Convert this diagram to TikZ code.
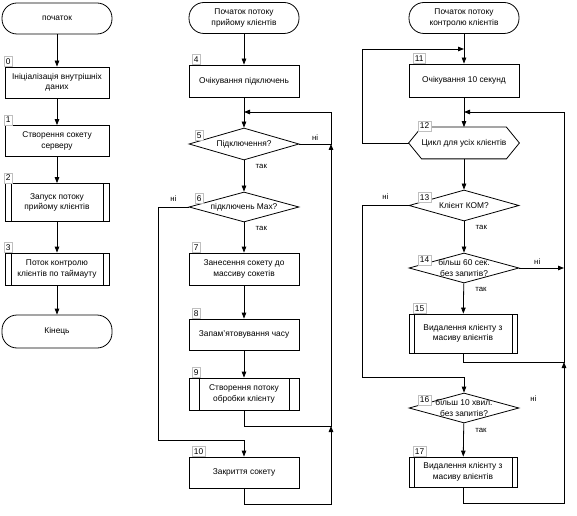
\documentclass[tikz,border=0pt]{standalone}
\usepackage{fontspec}
\setmainfont{Liberation Sans}
\usetikzlibrary{arrows.meta, shapes.geometric}
\tikzset{>={Triangle[length=6bp,width=4.5bp]}}
\tikzset{
	every node/.style={font=\fontsize{8.4}{10.5}\selectfont, align=center},
	term/.style={draw, rectangle, rounded corners=15bp, minimum width=110bp, minimum height=31bp, inner sep=0pt},
	proc/.style={draw, rectangle, minimum width=110bp, minimum height=31bp, inner sep=0pt},
	pred/.style={proc, path picture={
		\draw ([xshift=#1]path picture bounding box.north west) -- ([xshift=#1]path picture bounding box.south west);
		\draw ([xshift=-#1]path picture bounding box.north east) -- ([xshift=-#1]path picture bounding box.south east);}},
	dec/.style={draw, diamond, inner sep=-30bp, minimum width=110bp, minimum height=31bp},
	hexa/.style={rectangle, minimum width=110bp, minimum height=31bp, inner sep=0pt},
	num/.style={fill=white, draw=black!25, line width=0.5bp, inner xsep=2bp, inner ysep=1bp, minimum height=10bp, anchor=south west},
	yn/.style={font=\fontsize{7.8}{9}\selectfont}
}
\begin{document}
\begin{tikzpicture}[x=1bp, y=-1bp, line width=0.8bp]
	\useasboundingbox (0,0) rectangle (577,516);
	\node[term] (s1) at (57,18.5) {початок};
	\node[proc, minimum width=104bp] (b0) at (57,82.5) {Ініціалізація внутрішніх\\даних};
	\node[proc, minimum width=104bp] (b1) at (57,141) {Створення сокету\\серверу};
	\node[pred=6bp, minimum width=104bp, minimum height=38bp] (b2) at (57,202.5) {Запуск потоку\\прийому клієнтів};
	\node[pred=6bp, minimum width=104bp, minimum height=32bp] (b3) at (57,269) {Поток контролю\\клієнтів по таймауту};
	\node[term, minimum height=33bp] (e1) at (57,331.5) {Кінець};
	\foreach \b/\t in {b0/0, b1/1, b2/2, b3/3}
	\node[num] at ([xshift=-1bp]\b.north west) {\t};
	\draw[->] (s1) -- (b0);
	\draw[->] (b0) -- (b1);
	\draw[->] (b1) -- (b2);
	\draw[->] (b2) -- (b3);
	\draw[->] (b3) -- (e1);

	\node[term] (s2) at (244,18) {Початок потоку\\прийому клієнтів};
	\node[proc, minimum height=32bp] (b4) at (244,81) {Очікування підключень};
	\node[dec, minimum height=32bp] (d5) at (244,144) {Підключення?};
	\node[dec, minimum height=30bp] (d6) at (244,207) {підключень Max?};
	\node[proc, minimum height=32bp] (b7) at (244,269) {Занесення сокету до\\массиву сокетів};
	\node[proc, minimum height=31bp] (b8) at (244,334.5) {Запам’ятовування часу};
	\node[pred=10bp, minimum height=32bp] (b9) at (244,394) {Створення потоку\\обробки клієнту};
	\node[proc, minimum height=31bp] (b10) at (244,472.5) {Закриття сокету};
	\foreach \b/\t in {b4/4, b7/7, b8/8, b9/9, b10/10}
	\node[num] at ([xshift=3bp]\b.north west) {\t};
	\node[num] at ([xshift=6bp, yshift=3bp]d5.west) {5};
	\node[num] at ([xshift=6bp, yshift=3bp]d6.west) {6};
	\coordinate (r5) at (331,112);
	\coordinate (l6) at (158,440);
	\coordinate (m9) at (331,426);
	\coordinate (m10) at (331,504);
	\draw[->] (s2) -- (b4);
	\draw[->] (b4) -- (d5);
	\draw[->] (d5.east) -| node[yn, pos=.25, above] {ні} (r5) -- (r5 -| b4);
	\draw[->] (d5) -- node[yn, pos=.2, right=8bp] {так} (d6);
	\draw[->] (d6.west) -| node[yn, pos=.25, above=2bp] {ні} (l6) -- (l6 -| b10) -- (b10);
	\draw[->] (d6) -- node[yn, pos=.2, right=8bp] {так} (b7);
	\draw[->] (b7) -- (b8);
	\draw[->] (b8) -- (b9);
	\draw[->] (b9) |- (m9) -- (m9 |- d5.east);
	\draw[->] (b10) |- (m10) -- (m9);

	\node[term] (s3) at (464,18) {Початок потоку\\контролю клієнтів};
	\node[proc, minimum height=33bp] (b11) at (464,80.5) {Очікування 10 секунд};
	\node[hexa] (h12) at (464,143) {Цикл для усіх клієнтів};
	\draw (h12.west) -- ([xshift=13bp]h12.north west) -- ([xshift=-13bp]h12.north east) -- (h12.east) -- ([xshift=-13bp]h12.south east) -- ([xshift=13bp]h12.south west) -- cycle;
	\node[dec] (d13) at (464,205.5) {Клієнт КОМ?};
	\node[dec, minimum height=30bp] (d14) at (464,268) {більш 60 сек.\\без запитів?};
	\node[pred=5bp, minimum width=108bp, minimum height=39bp] (b15) at (463,333.5) {Видалення клієнту з\\масиву влієнтів};
	\node[dec, minimum height=30bp] (d16) at (464,408) {більш 10 хвил.\\без запитів?};
	\node[pred=5bp, minimum width=108bp, minimum height=30bp] (b17) at (463,472) {Видалення клієнту з\\масиву влієнтів};
	\foreach \b/\t in {b11/11, b15/15, b17/17}
	\node[num] at ([xshift=4bp]\b.north west) {\t};
	\node[num] at ([xshift=9bp, yshift=-4bp]h12.north west) {12};
	\foreach \d/\t in {d13/13, d14/14, d16/16}
	\node[num] at ([xshift=9bp, yshift=3bp]\d.west) {\t};
	\node[yn] (n16) at ([xshift=14bp, yshift=9bp]d16.east) {ні};
	\coordinate (l12) at (362,49);
	\coordinate (r12) at (564,112);
	\coordinate (l13) at (362,377);
	\coordinate (m15) at (564,362);
	\coordinate (m17) at (564,503);
	\draw[->] (s3) -- (b11);
	\draw[->] (h12.west) -| (l12) -- (l12 -| b11);
	\draw[->] (b11) -- (h12);
	\draw[->] (h12) -- (d13);
	\draw[->] (d13.west) -| node[yn, pos=.25, above=2bp] {ні} (l13) -- (l13 -| d16) -- (d16);
	\draw[->] (d13) -- node[yn, pos=.2, right=8bp] {так} (d14);
	\draw[->] (d14.east) -- node[yn, pos=.4, above] {ні} (d14.east -| r12);
	\draw[->] (d14) -- node[yn, pos=.2, right=8bp] {так} (b15);
	\draw[->] (b15) |- (m15) -- (r12) -- (r12 -| b11);
	\draw[->] (d16) -- node[yn, pos=.2, right=8bp] {так} (b17);
	\draw[->] (b17) |- (m17) -- (m15);
\end{tikzpicture}
\end{document}
